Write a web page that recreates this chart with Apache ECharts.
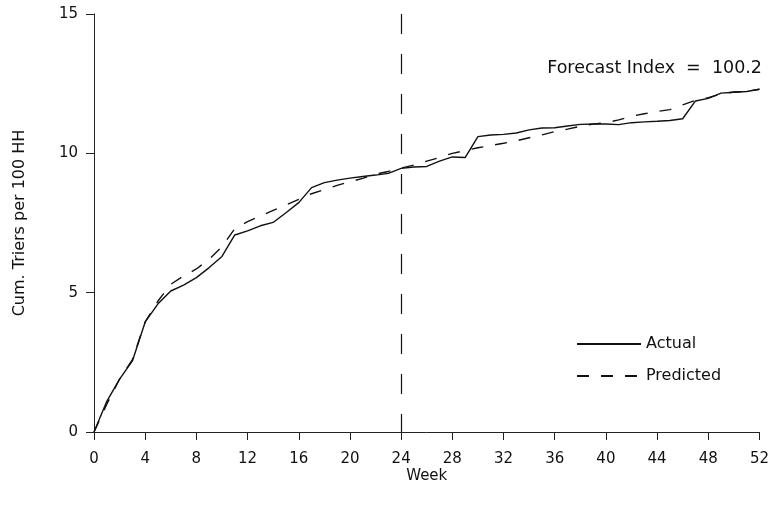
<!DOCTYPE html>
<html>
<head>
<meta charset="utf-8">
<script src="https://cdn.jsdelivr.net/npm/echarts@6/dist/echarts.min.js"></script>
<style>
html,body{margin:0;padding:0;background:#fff;}
#chart{width:772px;height:507px;}
</style>
</head>
<body>
<div id="chart"></div>
<script>
// Weeks 0..52
const weeks = Array.from({length: 53}, (_, i) => i);
const actual = [0, 1.1, 1.9, 2.55, 3.95, 4.6, 5.06, 5.27, 5.54, 5.9, 6.3, 7.07, 7.22, 7.4,
  7.52, 7.87, 8.23, 8.77, 8.95, 9.04, 9.11, 9.17, 9.22, 9.28, 9.46, 9.51, 9.53, 9.72,
  9.87, 9.85, 10.6, 10.66, 10.68, 10.73, 10.84, 10.91, 10.92, 10.98, 11.04, 11.05, 11.05,
  11.03, 11.1, 11.13, 11.15, 11.18, 11.24, 11.88, 11.97, 12.16, 12.19, 12.22, 12.3];
const predicted = [0, 1.0, 1.9, 2.6, 3.95, 4.7, 5.3, 5.6, 5.85, 6.2, 6.65, 7.3, 7.55, 7.75,
  7.95, 8.15, 8.35, 8.55, 8.7, 8.85, 8.98, 9.1, 9.25, 9.35, 9.47, 9.58, 9.72, 9.85,
  10.0, 10.1, 10.2, 10.28, 10.36, 10.45, 10.56, 10.66, 10.78, 10.87, 10.97, 11.05, 11.1,
  11.2, 11.33, 11.42, 11.5, 11.57, 11.74, 11.9, 12.0, 12.13, 12.2, 12.22, 12.3];
const forecastWeek = 24;
const annotation = 'Forecast Index  =  100.2';
const xTitle = 'Week';
const yTitle = 'Cum. Triers per 100 HH';

const FONT = 'DejaVu Sans';
const chart = echarts.init(document.getElementById('chart'), null, {renderer: 'canvas'});
const axisCommon = {
  axisLine: {show: true, lineStyle: {color: '#222', width: 1}},
  axisTick: {show: true, inside: false, length: 8, lineStyle: {color: '#222'}},
  splitLine: {show: false},
  axisLabel: {color: '#111', fontFamily: FONT, fontSize: 15},
  nameTextStyle: {color: '#111', fontFamily: FONT, fontSize: 15}
};
chart.setOption({
  animation: false,
  backgroundColor: '#fff',
  grid: {left: 94, right: 10, top: 14, bottom: 75, containLabel: false},
  xAxis: Object.assign({}, axisCommon, {
    type: 'value', min: 0, max: 52, interval: 4,
    name: xTitle, nameLocation: 'middle', nameGap: 37, nameMoveOverlap: false,
    axisLabel: Object.assign({}, axisCommon.axisLabel, {margin: 20})
  }),
  yAxis: Object.assign({}, axisCommon, {
    type: 'value', min: 0, max: 15, interval: 5,
    name: yTitle, nameLocation: 'middle', nameGap: 66, nameMoveOverlap: false,
    nameTextStyle: {color: '#111', fontFamily: FONT, fontSize: 16},
    axisLabel: Object.assign({}, axisCommon.axisLabel, {margin: 16})
  }),
  legend: {
    orient: 'vertical', left: 571, top: 331,
    itemWidth: 64, itemHeight: 14, itemGap: 16,
    itemStyle: {opacity: 0},
    textStyle: {color: '#111', fontFamily: FONT, fontSize: 16},
    data: ['Actual', 'Predicted']
  },
  graphic: [{
    type: 'text', right: 10, top: 59,
    style: {text: annotation, fill: '#111', font: '17.5px "DejaVu Sans"'}
  }],
  series: [
    {
      name: 'Actual', type: 'line', symbol: 'none', showSymbol: false,
      data: weeks.map((w, i) => [w, actual[i]]),
      lineStyle: {color: '#111', width: 1.4},
      itemStyle: {color: '#111'},
      markLine: {
        silent: true, symbol: 'none', label: {show: false},
        lineStyle: {color: '#111', width: 1.2, type: [20, 20]},
        data: [[{coord: [forecastWeek, 15]}, {coord: [forecastWeek, 0]}]]
      },
      z: 3
    },
    {
      name: 'Predicted', type: 'line', symbol: 'none', showSymbol: false,
      data: weeks.map((w, i) => [w, predicted[i]]),
      lineStyle: {color: '#111', width: 1.4, type: [12, 12]},
      itemStyle: {color: '#111'},
      z: 2
    }
  ]
});
</script>
</body>
</html>
